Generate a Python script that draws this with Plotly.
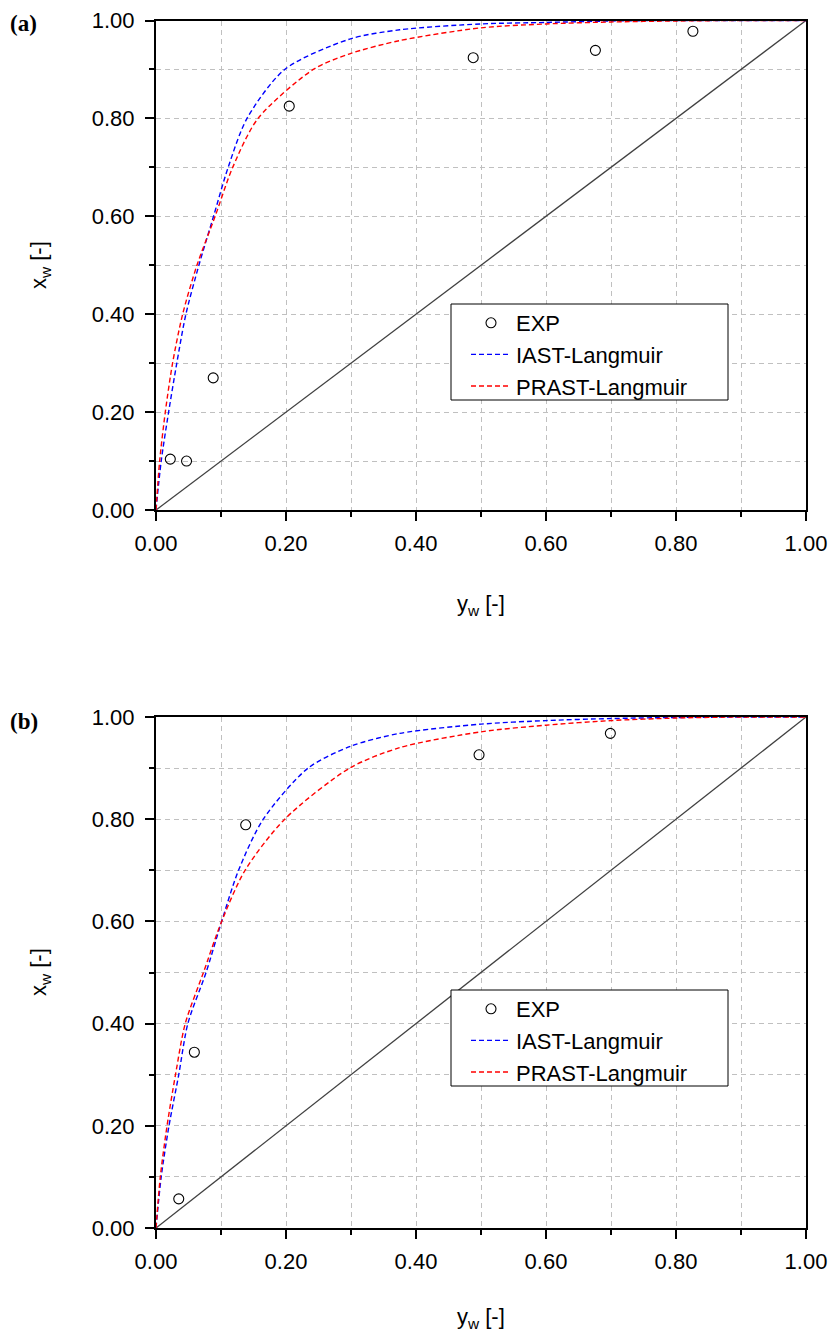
import plotly.graph_objects as go

# ---------------- data ----------------
# Panel (a)
exp_a_x = [0.022, 0.047, 0.088, 0.205, 0.488, 0.676, 0.826]
exp_a_y = [0.104, 0.100, 0.270, 0.825, 0.924, 0.939, 0.978]

iast_a_x = [0.0, 0.008, 0.0194, 0.032, 0.046, 0.066, 0.0885, 0.111, 0.140, 0.198, 0.298, 0.375, 0.500, 0.600, 0.700, 0.800, 0.900, 1.0]
iast_a_y = [0.0, 0.100, 0.200, 0.300, 0.400, 0.500, 0.600, 0.700, 0.800, 0.900, 0.962, 0.981, 0.993, 0.996, 0.999, 1.000, 1.000, 1.0]

prast_a_x = [0.0, 0.0056, 0.0143, 0.0255, 0.041, 0.063, 0.091, 0.118, 0.157, 0.242, 0.298, 0.375, 0.500, 0.600, 0.700, 0.800, 0.900, 1.0]
prast_a_y = [0.0, 0.100, 0.200, 0.300, 0.400, 0.500, 0.600, 0.700, 0.800, 0.900, 0.932, 0.959, 0.985, 0.993, 0.997, 0.999, 1.000, 1.0]

# Panel (b)
exp_b_x = [0.035, 0.059, 0.138, 0.497, 0.699]
exp_b_y = [0.057, 0.344, 0.789, 0.926, 0.968]

iast_b_x = [0.0, 0.008, 0.020, 0.035, 0.049, 0.077, 0.101, 0.127, 0.165, 0.234, 0.300, 0.375, 0.500, 0.600, 0.700, 0.800, 0.900, 1.0]
iast_b_y = [0.0, 0.100, 0.200, 0.300, 0.400, 0.500, 0.600, 0.700, 0.800, 0.900, 0.943, 0.968, 0.986, 0.993, 0.997, 0.999, 1.000, 1.0]

prast_b_x = [0.0, 0.0066, 0.017, 0.030, 0.045, 0.073, 0.101, 0.137, 0.198, 0.298, 0.375, 0.500, 0.600, 0.700, 0.800, 0.900, 1.0]
prast_b_y = [0.0, 0.100, 0.200, 0.300, 0.400, 0.500, 0.600, 0.700, 0.800, 0.900, 0.940, 0.971, 0.984, 0.993, 0.998, 1.000, 1.0]

diag = [0.0, 1.0]

tick_vals = [0.0, 0.2, 0.4, 0.6, 0.8, 1.0]
tick_text = ["0.00", "0.20", "0.40", "0.60", "0.80", "1.00"]

# ---------------- figure ----------------
W, H = 834, 1338
fig = go.Figure()

FONT = "Liberation Sans, Arial, sans-serif"
dash = "5px,3px"

def add_panel(xa, ya, ex, ey, ix, iy, px, py, legend):
    fig.add_trace(go.Scatter(x=diag, y=diag, mode="lines", xaxis=xa, yaxis=ya,
                             line=dict(color="#404040", width=1.3), showlegend=False,
                             hoverinfo="skip"))
    fig.add_trace(go.Scatter(x=ex, y=ey, mode="markers", name="EXP", xaxis=xa, yaxis=ya,
                             legend=legend, cliponaxis=False,
                             marker=dict(symbol="circle-open", size=10,
                                         color="black", line=dict(width=1.1, color="black"))))
    fig.add_trace(go.Scatter(x=ix, y=iy, mode="lines", name="IAST-Langmuir", xaxis=xa, yaxis=ya,
                             legend=legend,
                             line=dict(color="#0000ff", width=1.4, dash=dash,
                                       shape="spline", smoothing=0.8)))
    fig.add_trace(go.Scatter(x=px, y=py, mode="lines", name="PRAST-Langmuir", xaxis=xa, yaxis=ya,
                             legend=legend,
                             line=dict(color="#ff0000", width=1.4, dash=dash,
                                       shape="spline", smoothing=0.8)))

add_panel("x", "y", exp_a_x, exp_a_y, iast_a_x, iast_a_y, prast_a_x, prast_a_y, "legend")
add_panel("x2", "y2", exp_b_x, exp_b_y, iast_b_x, iast_b_y, prast_b_x, prast_b_y, "legend2")

xdom = [156 / W, 806 / W]
ydom_a = [1 - 510 / H, 1 - 20.5 / H]
ydom_b = [1 - 1228 / H, 1 - 717 / H]

def axis(domain, anchor, is_x):
    return dict(
        domain=domain, anchor=anchor, range=[0, 1], autorange=False,
        tickmode="array", tickvals=tick_vals, ticktext=tick_text,
        ticks="outside", ticklen=9, tickwidth=1.5, tickcolor="black",
        showline=True, linecolor="black", linewidth=2, mirror=True,
        showgrid=True, gridcolor="#c0c0c0", gridwidth=1, griddash="5px,4px",
        zeroline=False, automargin=False,
        tickfont=dict(family=FONT, size=22, color="black"),
        ticklabelstandoff=4 if is_x else 6,
        minor=dict(dtick=0.1, tick0=0, ticks="outside", ticklen=5, tickwidth=1.5,
                   tickcolor="black", showgrid=True, gridcolor="#c0c0c0",
                   gridwidth=1, griddash="5px,4px"),
    )

LEG = dict(xanchor="left", yanchor="top", bgcolor="rgba(0,0,0,0)", borderwidth=0,
           font=dict(family=FONT, size=22, color="black"),
           itemwidth=40, tracegroupgap=0)

fig.update_layout(
    width=W, height=H,
    margin=dict(l=0, r=0, t=0, b=0),
    paper_bgcolor="white", plot_bgcolor="white",
    xaxis=axis(xdom, "y", True), yaxis=axis(ydom_a, "x", False),
    xaxis2=axis(xdom, "y2", True), yaxis2=axis(ydom_b, "x2", False),
    legend=dict(x=466 / W, y=1 - 302 / H, **LEG),
    legend2=dict(x=466 / W, y=1 - 988 / H, **LEG),
    showlegend=True,
)

# legend frames
for (y0, y1) in [(304, 400), (990, 1086)]:
    fig.add_shape(type="rect", xref="paper", yref="paper",
                  x0=451 / W, x1=728 / W, y0=1 - y1 / H, y1=1 - y0 / H,
                  line=dict(color="black", width=1), fillcolor="white", layer="above")

TFONT = dict(family="Liberation Sans Narrow, Liberation Sans, Arial, sans-serif", size=22, color="black")
ann = []
for (cx, cy) in [(481, 605), (481, 1318)]:
    ann.append(dict(text="y<sub>w</sub> [-]", x=cx / W, y=1 - cy / H, xref="paper", yref="paper",
                    showarrow=False, font=TFONT, xanchor="center", yanchor="middle"))
for (cx, cy) in [(40, 265), (40, 972)]:
    ann.append(dict(text="x<sub>w</sub> [-]", x=cx / W, y=1 - cy / H, xref="paper", yref="paper",
                    showarrow=False, font=TFONT, xanchor="center", yanchor="middle", textangle=-90))
for (lab, cy) in [("<b>(a)</b>", 23), ("<b>(b)</b>", 721)]:
    ann.append(dict(text=lab, x=8 / W, y=1 - cy / H, xref="paper", yref="paper",
                    showarrow=False, xanchor="left", yanchor="middle",
                    font=dict(family="Liberation Serif, Times New Roman, serif", size=23, color="black")))
fig.update_layout(annotations=ann)

fig.write_html("out.html", config={"displayModeBar": False},
               post_script="document.body.style.margin='0';")
